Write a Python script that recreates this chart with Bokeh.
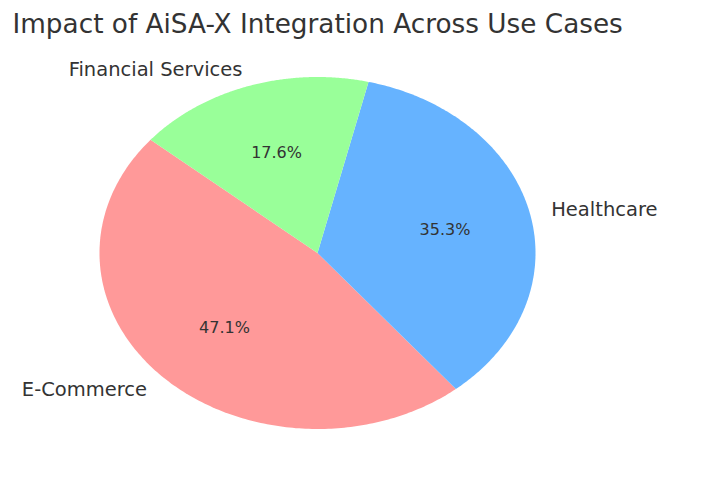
import numpy as np
from bokeh.plotting import figure
from bokeh.models import ColumnDataSource, Label
from bokeh.core.properties import value
from bokeh.embed import file_html
from bokeh.resources import INLINE

# ---- data ----
title_text = "Impact of AiSA-X Integration Across Use Cases"
categories = ["E-Commerce", "Healthcare", "Financial Services"]
values = [8, 6, 3]
colors = ["#ff9999", "#66b3ff", "#99ff99"]
start_angle_deg = 140

# ---- layout (pixels) ----
W, H = 712, 467
cx_px, cy_px = 317, 252.5      # pie centre, from top-left of figure
rx_px, ry_px = 218, 176        # pie radii in pixels

p = figure(width=W, height=H, output_backend="svg", toolbar_location=None,
           x_range=(-cx_px / rx_px, (W - cx_px) / rx_px),
           y_range=(-(H - cy_px) / ry_px, cy_px / ry_px),
           min_border=0)
p.axis.visible = False
p.grid.visible = False
p.outline_line_color = None
p.background_fill_color = "white"
p.border_fill_color = "white"

vals = np.array(values, dtype=float)
frac = vals / vals.sum()
starts = np.deg2rad(start_angle_deg + 360 * np.concatenate([[0], np.cumsum(frac)[:-1]]))
ends = starts + np.deg2rad(360 * frac)
mids = (starts + ends) / 2

xs, ys = [], []
for a0, a1 in zip(starts, ends):
    t = np.linspace(a0, a1, 200)
    xs.append(np.concatenate([[0], np.cos(t), [0]]))
    ys.append(np.concatenate([[0], np.sin(t), [0]]))

p.patches(xs=xs, ys=ys, fill_color=colors, line_color=None)

# category labels
lx = 1.1 * np.cos(mids)
ly = 1.1 * np.sin(mids)
align = ["left" if x > 0 else "right" for x in lx]
src = ColumnDataSource(dict(x=lx, y=ly, t=categories, a=align))
p.text(x="x", y="y", text="t", text_align="a", text_baseline="middle",
       text_font=value("DejaVu Sans"), text_font_size="19.5px", text_color="#333333",
       source=src)

# percentage labels
px = 0.6 * np.cos(mids)
py = 0.6 * np.sin(mids)
pct = ["%.1f%%" % (f * 100) for f in frac]
src2 = ColumnDataSource(dict(x=px, y=py, t=pct))
p.text(x="x", y="y", text="t", text_align="center", text_baseline="middle",
       text_font=value("DejaVu Sans"), text_font_size="16px", text_color="#333333",
       source=src2)

p.add_layout(Label(x=12, y=H - 23, x_units="screen", y_units="screen",
                   text=title_text, text_font="DejaVu Sans", text_font_size="26.3px",
                   text_color="#333333", text_baseline="alphabetic", text_align="left"))

open("out.html", "w").write(file_html(p, INLINE))
